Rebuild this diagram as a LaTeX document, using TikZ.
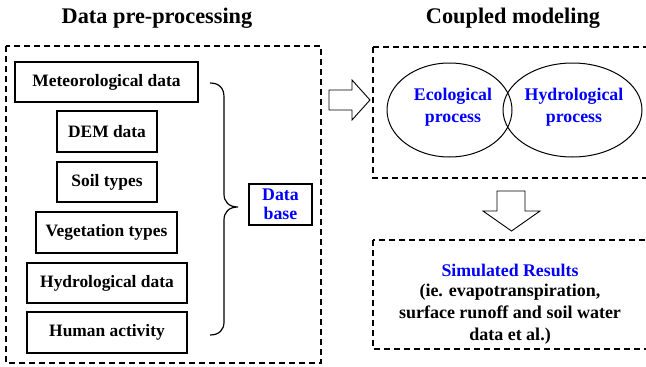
\documentclass[tikz,border=0pt]{standalone}
\usepackage{fontspec}
\setmainfont{Liberation Serif}
\usetikzlibrary{shapes.geometric}
\begin{document}
\begin{tikzpicture}[x=1pt,y=-1pt,
  every node/.style={font=\bfseries},
  title/.style={font=\bfseries\fontsize{22.3}{24}\selectfont},
  panel/.style={draw, line width=1.2pt, dash pattern=on 6pt off 4pt},
  databox/.style={draw, line width=1.1pt, font=\bfseries\fontsize{17.4}{20}\selectfont, inner sep=0pt},
  bluetxt/.style={text=blue, font=\bfseries\fontsize{17.8}{21.5}\selectfont, align=center},
  blacktxt/.style={font=\bfseries\fontsize{18}{22}\selectfont, align=center},
  fatarrow/.style={draw, line width=0.9pt, fill=white, line join=miter}
]
\useasboundingbox (0,0) rectangle (646,367);
% titles
\node[title] (t1) at (157,18) {Data pre-processing};
\node[title] (t2) at (513,18) {Coupled modeling};
% left panel
\draw[panel] (6,46) rectangle (321,363);
\node[databox, minimum width=183pt, minimum height=40pt] (met) at (106.5,82) {Meteorological data};
\node[databox, minimum width=100pt, minimum height=41pt] (dem) at (107,131.5) {DEM data};
\node[databox, minimum width=100pt, minimum height=40pt] (soil) at (107,182) {Soil types};
\node[databox, minimum width=141pt, minimum height=41pt] (veg) at (106.5,232.5) {Vegetation types};
\node[databox, minimum width=160pt, minimum height=40pt] (hyd) at (107,283) {Hydrological data};
\node[databox, minimum width=160pt, minimum height=41pt] (hum) at (107,332.5) {Human activity};
\coordinate (bt) at (210,83);
\coordinate (bb) at (210,335);
\coordinate (btip) at (238,207);
\draw[line width=1.2pt] (bt) .. controls (219,83) and (224,88) .. (224,97) -- (224,194)
  .. controls (224,202) and (229,207) .. (btip)
  .. controls (229,207) and (224,212) .. (224,220) -- (224,322)
  .. controls (224,330) and (219,335) .. (bb);
\node[draw, line width=1.1pt, minimum width=63pt, minimum height=41pt, inner sep=0pt, bluetxt, text width=60pt, font=\bfseries\fontsize{17.8}{19}\selectfont] (db) at (280.5,204.5) {Data\\base};
% right arrow
\draw[fatarrow] (329,90) -- (352,90) -- (352,80) -- (370,100) -- (352,120) -- (352,110) -- (329,110) -- cycle;
% top right panel
\draw[panel] (373,47) rectangle (650,178);
\node[draw, ellipse, line width=1pt, minimum width=125pt, minimum height=94pt] (eco) at (449.5,110) {};
\node[draw, ellipse, line width=1pt, minimum width=139pt, minimum height=94pt] (hydp) at (572.5,110) {};
\node[bluetxt] (ecot) at (453,107) {Ecological\\process};
\node[bluetxt] (hydt) at (574,107) {Hydrological\\process};
% down arrow
\draw[fatarrow] (497,191) -- (525,191) -- (525,211) -- (540,211) -- (511.5,231) -- (483,211) -- (497,211) -- cycle;
% bottom right panel
\draw[panel] (373,240) rectangle (650,349);
\node[bluetxt] (simt) at (510,270) {Simulated Results};
\node[blacktxt] (simd) at (510,314) {(ie. evapotranspiration,\\surface runoff and soil water\\data et al.)};
\end{tikzpicture}
\end{document}
